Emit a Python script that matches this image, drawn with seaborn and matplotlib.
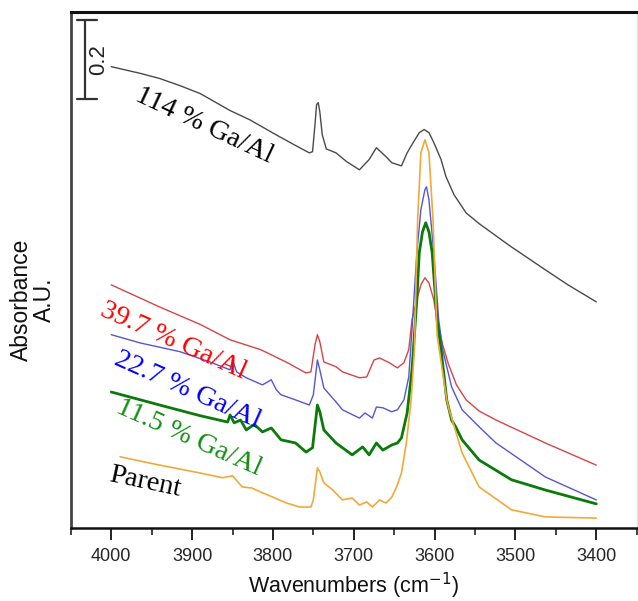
import numpy as np
import pandas as pd
import matplotlib
matplotlib.use("Agg")
import matplotlib.pyplot as plt
import seaborn as sns

# ---------------- data ----------------
wn_114 = [4000, 3964, 3940, 3915, 3890, 3853, 3829, 3792, 3767, 3755, 3751, 3748, 3746, 3744, 3742,
          3739, 3734, 3722, 3709, 3693, 3681, 3672, 3660, 3653, 3641, 3634, 3628, 3619, 3613, 3607,
          3601, 3592, 3586, 3576, 3561, 3545, 3520, 3505, 3463, 3435, 3400]
ab_114 = [1.167, 1.150, 1.137, 1.119, 1.099, 1.056, 1.033, 0.990, 0.962, 0.949, 0.952, 1.020, 1.071, 1.076, 1.053,
          0.995, 0.959, 0.949, 0.927, 0.906, 0.932, 0.962, 0.939, 0.924, 0.916, 0.949, 0.970, 1.000, 1.008, 1.000,
          0.975, 0.932, 0.889, 0.843, 0.797, 0.770, 0.733, 0.711, 0.653, 0.615, 0.572]

wn_397 = [4000, 3940, 3890, 3853, 3815, 3782, 3759, 3753, 3748, 3745, 3742, 3737, 3722, 3714, 3693,
          3684, 3675, 3668, 3656, 3646, 3638, 3632, 3628, 3622, 3617, 3612, 3607, 3601, 3597, 3590,
          3583, 3573, 3561, 3545, 3524, 3463, 3400]
ab_397 = [0.615, 0.559, 0.515, 0.476, 0.451, 0.418, 0.392, 0.395, 0.463, 0.489, 0.471, 0.420, 0.408, 0.395, 0.380,
          0.382, 0.425, 0.430, 0.418, 0.405, 0.418, 0.451, 0.527, 0.577, 0.615, 0.633, 0.620, 0.577, 0.527, 0.463,
          0.415, 0.362, 0.324, 0.296, 0.273, 0.215, 0.159]

wn_227 = [4000, 3964, 3915, 3878, 3853, 3850, 3845, 3833, 3813, 3802, 3796, 3790, 3772, 3755, 3750,
          3745, 3742, 3737, 3722, 3714, 3693, 3686, 3677, 3672, 3664, 3653, 3646, 3638, 3632, 3628,
          3622, 3617, 3612, 3610, 3607, 3601, 3595, 3590, 3579, 3566, 3545, 3524, 3463, 3400]
ab_227 = [0.489, 0.468, 0.446, 0.420, 0.400, 0.425, 0.395, 0.380, 0.362, 0.375, 0.350, 0.337, 0.324, 0.311, 0.337,
          0.425, 0.400, 0.354, 0.319, 0.299, 0.278, 0.291, 0.278, 0.306, 0.304, 0.294, 0.299, 0.324, 0.382, 0.501,
          0.696, 0.805, 0.856, 0.863, 0.830, 0.696, 0.527, 0.451, 0.357, 0.299, 0.256, 0.215, 0.129, 0.071]

wn_115 = [4000, 3940, 3890, 3856, 3853, 3848, 3840, 3833, 3823, 3813, 3802, 3790, 3772, 3759, 3751,
          3745, 3742, 3737, 3722, 3714, 3702, 3689, 3681, 3672, 3664, 3653, 3646, 3641, 3634, 3628,
          3622, 3619, 3615, 3611, 3607, 3603, 3597, 3592, 3585, 3579, 3574, 3566, 3545, 3505, 3463, 3400]
ab_115 = [0.344, 0.311, 0.284, 0.268, 0.286, 0.266, 0.273, 0.248, 0.262, 0.243, 0.253, 0.223, 0.215, 0.192, 0.203,
          0.311, 0.294, 0.248, 0.215, 0.203, 0.185, 0.205, 0.185, 0.215, 0.197, 0.210, 0.215, 0.228, 0.291, 0.400,
          0.577, 0.696, 0.749, 0.772, 0.749, 0.696, 0.527, 0.451, 0.324, 0.273, 0.256, 0.223, 0.172, 0.122, 0.096, 0.061]

wn_par = [3989, 3940, 3890, 3862, 3850, 3838, 3826, 3813, 3800, 3783, 3767, 3753, 3750, 3745, 3742,
          3737, 3726, 3714, 3702, 3693, 3684, 3677, 3668, 3660, 3653, 3647, 3641, 3635, 3629, 3625,
          3621, 3617, 3612, 3607, 3602, 3597, 3585, 3582, 3566, 3545, 3505, 3463, 3400]
ab_par = [0.180, 0.159, 0.139, 0.127, 0.132, 0.104, 0.101, 0.089, 0.078, 0.063, 0.053, 0.053, 0.071, 0.152, 0.142,
          0.114, 0.096, 0.071, 0.076, 0.058, 0.066, 0.053, 0.071, 0.063, 0.078, 0.104, 0.139, 0.215, 0.324, 0.451,
          0.780, 0.949, 0.982, 0.949, 0.780, 0.489, 0.324, 0.299, 0.190, 0.104, 0.046, 0.028, 0.025]

labels = ["114 % Ga/Al", "39.7 % Ga/Al", "22.7 % Ga/Al", "11.5 % Ga/Al", "Parent"]
x_ticks = [4000, 3900, 3800, 3700, 3600, 3500, 3400]
scale_bar = 0.2

# ---------------- styling ----------------
sns.set_theme(style="white")
plt.rcParams['font.family'] = ['Liberation Sans', 'DejaVu Sans']

fig = plt.figure(figsize=(6.38, 6.01), dpi=100)
ax = fig.add_axes([0.111, 0.1215, 0.887, 0.859])

series = [
    (wn_114, ab_114, "#4a4a4a", 1.0),
    (wn_397, ab_397, "#d64545", 1.0),
    (wn_227, ab_227, "#5555d5", 1.0),
    (wn_115, ab_115, "#0a7a0a", 2.0),
    (wn_par, ab_par, "#f0aa3a", 1.2),
]
for (w, a, c, lw), lab in zip(series, labels):
    df = pd.DataFrame({"wn": w, "ab": a})
    sns.lineplot(data=df, x="wn", y="ab", ax=ax, color=c, linewidth=lw,
                 estimator=None, sort=False, legend=False)

ax.set_xlim(4050, 3350)
ax.set_ylim(0, 1.306)
ax.set_xticks(x_ticks)
ax.set_xticks(np.arange(3350, 4051, 50), minor=True)
ax.set_yticks([])
ax.tick_params(axis='x', which='major', direction='out', length=8.5, width=1.4,
               color='#222222', labelsize=13, pad=6, bottom=True)
ax.tick_params(axis='x', which='minor', direction='out', length=5, width=1.2,
               color='#222222', bottom=True)

for side, col, lw in [("top", "#111111", 2.2), ("bottom", "#111111", 1.8),
                      ("left", "#444444", 2.0), ("right", "#e4e4e4", 1.0)]:
    ax.spines[side].set_color(col)
    ax.spines[side].set_linewidth(lw)
    ax.spines[side].set_visible(True)

ax.set_xlabel("Wavenumbers (cm$^{-1}$)", fontsize=15.5, color='#111111', labelpad=4)
ax.set_ylabel("")
fig.text(33 / 638, 1 - 300 / 601, "Absorbance\nA.U.", rotation=90, ha='center', va='center',
         multialignment='center', fontsize=16.5, color='#111111', linespacing=1.0)

# scale bar
y_top, y_bot = 1.286, 1.286 - scale_bar
ax.plot([4032, 4032], [y_bot, y_top], color='#333333', lw=1.6, clip_on=False)
ax.plot([4042, 4018], [y_top, y_top], color='#333333', lw=1.6, clip_on=False)
ax.plot([4042, 4018], [y_bot, y_bot], color='#333333', lw=1.6, clip_on=False)
ax.text(4015, (y_top + y_bot) / 2, "0.2", rotation=90, ha='center', va='center',
        fontsize=16, color='#222222')

# curve labels
serif = ['Liberation Serif', 'DejaVu Serif']
txt = [
    (labels[0], 3885, 1.018, -25, "#000000"),
    (labels[1], 3923, 0.472, -24, "#ff0000"),
    (labels[2], 3906, 0.350, -24, "#0000ff"),
    (labels[3], 3904, 0.229, -24, "#119011"),
    (labels[4], 3958, 0.116, -12, "#000000"),
]
for s, x, y, r, c in txt:
    ax.text(x, y, s, rotation=r, rotation_mode='anchor', ha='center', va='center',
            fontsize=20.5, color=c, family=serif)

fig.savefig("out.png", dpi=100)
